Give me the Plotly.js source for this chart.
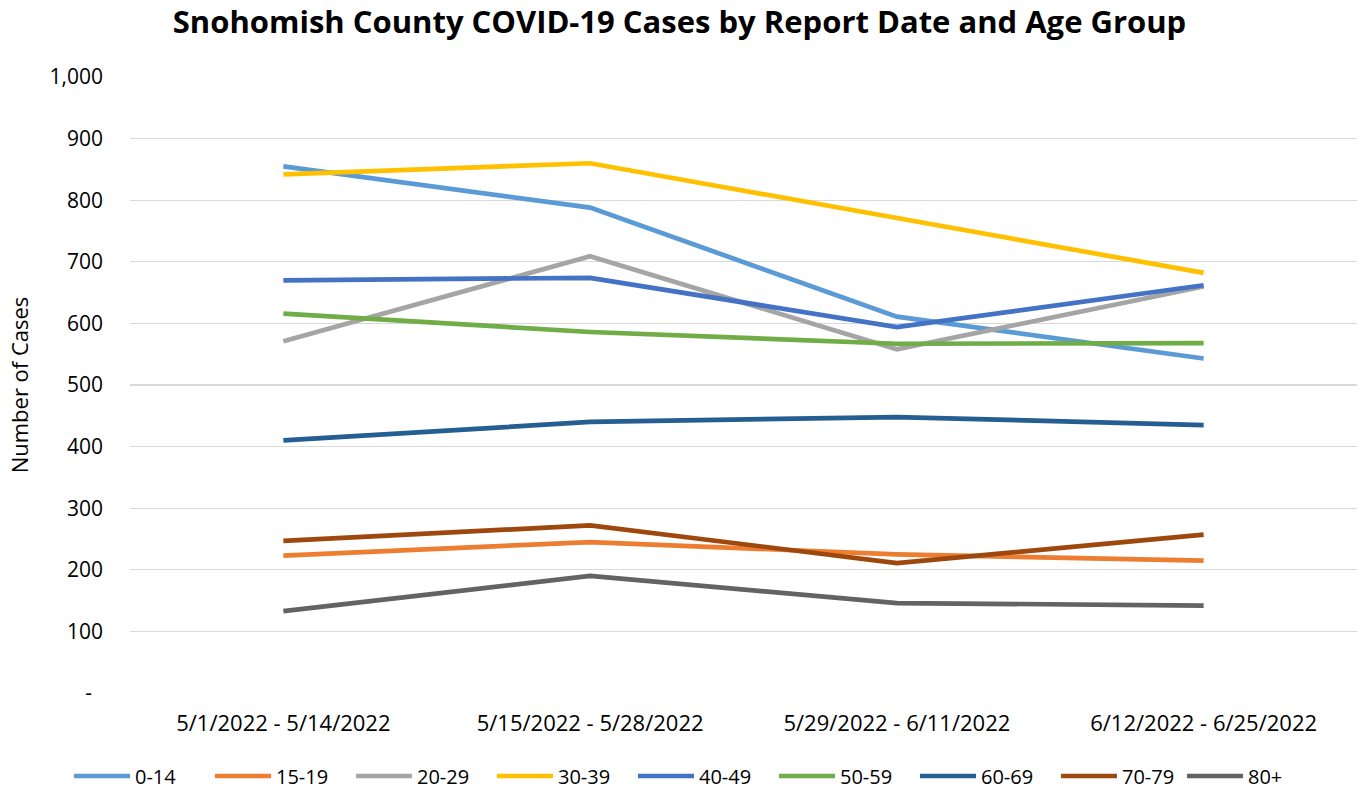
<!DOCTYPE html>
<html>
<head>
<meta charset="utf-8">
<script src="https://cdn.plot.ly/plotly-3.0.1.min.js"></script>
<style>html,body{margin:0;padding:0;background:#fff;}#chart{width:1359px;height:790px;}</style>
</head>
<body>
<div id="chart"></div>
<script>
const periods = ["5/1/2022 - 5/14/2022", "5/15/2022 - 5/28/2022", "5/29/2022 - 6/11/2022", "6/12/2022 - 6/25/2022"];
const ageGroups = ["0-14", "15-19", "20-29", "30-39", "40-49", "50-59", "60-69", "70-79", "80+"];
const age_0_14  = [855, 788, 611, 543];
const age_15_19 = [223, 245, 225, 215];
const age_20_29 = [571, 709, 558, 660];
const age_30_39 = [842, 860, 771, 682];
const age_40_49 = [670, 674, 594, 662];
const age_50_59 = [616, 586, 567, 568];
const age_60_69 = [410, 440, 448, 435];
const age_70_79 = [247, 272, 211, 257];
const age_80p   = [133, 190, 146, 142];
const seriesValues = [age_0_14, age_15_19, age_20_29, age_30_39, age_40_49, age_50_59, age_60_69, age_70_79, age_80p];
const colors = ["#5B9BD5", "#ED7D31", "#A5A5A5", "#FFC000", "#4472C4", "#70AD47", "#255E91", "#9E480E", "#636363"];
const yTickVals = [0, 100, 200, 300, 400, 500, 600, 700, 800, 900, 1000];
const yTickText = ["-\u00a0\u00a0", "100", "200", "300", "400", "500", "600", "700", "800", "900", "1,000"];

const FONT = "Open Sans, Noto Sans, sans-serif";
const traces = ageGroups.map((name, i) => ({
  type: "scatter", mode: "lines", name: name,
  x: periods, y: seriesValues[i],
  line: {color: colors[i], width: 4.7},
  legend: i === ageGroups.length - 1 ? "legend2" : "legend"
}));

const legendCommon = {orientation: "h", xref: "container", xanchor: "left",
  y: 0.0177, yref: "container", yanchor: "middle", font: {size: 20, family: FONT},
  entrywidth: 70, entrywidthmode: "pixels", itemwidth: 56, traceorder: "normal"};

const layout = {
  width: 1359, height: 790,
  margin: {l: 130, r: 2, t: 77, b: 97, autoexpand: false},
  paper_bgcolor: "#fff", plot_bgcolor: "#fff",
  font: {family: FONT, color: "#000", size: 20},
  title: {text: "<b>Snohomish County COVID-19 Cases by Report Date and Age Group</b>",
          font: {family: FONT, size: 31, color: "#000"},
          x: 0.5, xref: "container", xanchor: "center", y: 0.972, yref: "container", yanchor: "middle"},
  xaxis: {type: "category", range: [-0.5, 3.5], showgrid: false, zeroline: false, showline: false,
          ticks: "", tickangle: 0, tickfont: {size: 22, family: FONT}, ticklabelstandoff: 15, fixedrange: true},
  yaxis: {range: [0, 1000], tickvals: yTickVals, ticktext: yTickText, showgrid: true,
          gridcolor: "#D9D9D9", gridwidth: 1.4, zeroline: false, showline: false, ticks: "",
          tickfont: {size: 21, family: FONT}, ticklabelstandoff: 26,
          title: {text: "Number of Cases", font: {size: 22, family: FONT}, standoff: 14}},
  showlegend: true,
  legend: Object.assign({}, legendCommon, {x: 69 / 1359}),
  legend2: Object.assign({}, legendCommon, {x: 1182 / 1359})
};
Plotly.newPlot("chart", traces, layout, {displayModeBar: false, staticPlot: true});
</script>
</body>
</html>
